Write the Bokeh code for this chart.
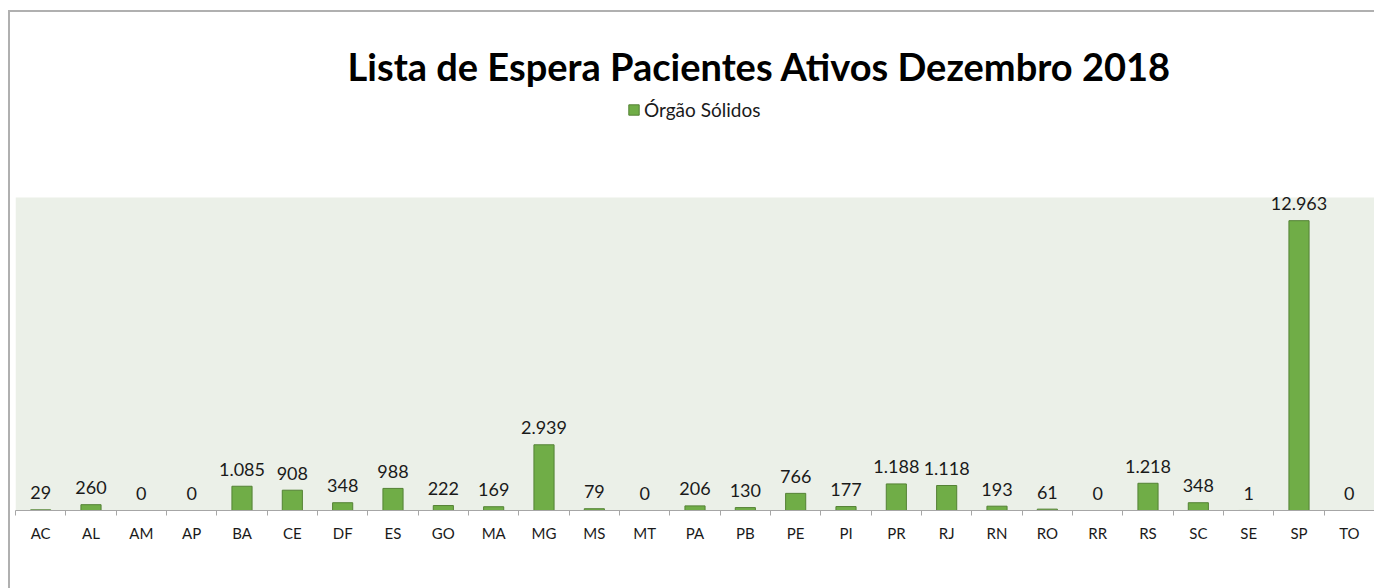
from bokeh.plotting import figure
from bokeh.models import Range1d, FixedTicker, Label, Legend, LegendItem, ColumnDataSource, BoxAnnotation
from bokeh.core.properties import value
from bokeh.embed import file_html
from bokeh.resources import INLINE

states = ["AC", "AL", "AM", "AP", "BA", "CE", "DF", "ES", "GO", "MA", "MG", "MS", "MT",
          "PA", "PB", "PE", "PI", "PR", "RJ", "RN", "RO", "RR", "RS", "SC", "SE", "SP", "TO"]
values = [29, 260, 0, 0, 1085, 908, 348, 988, 222, 169, 2939, 79, 0,
          206, 130, 766, 177, 1188, 1118, 193, 61, 0, 1218, 348, 1, 12963, 0]
title_text = "Lista de Espera Pacientes Ativos Dezembro 2018"
series_name = "Órgão Sólidos"
y_max = 14000

n = len(states)
xs = [i + 0.5 for i in range(n)]
labels = [f"{v:,}".replace(",", ".") for v in values]
src = ColumnDataSource(dict(x=xs, top=values, lab=labels))

# layout (pixels)
FRAME_TOP, AXIS_Y, AREA_TOP = 12, 510, 197
y_end = y_max * (AXIS_Y - FRAME_TOP) / (AXIS_Y - AREA_TOP)

FONT = "Lato"
p = figure(width=1366, height=578, output_backend="svg", toolbar_location=None,
           x_range=Range1d(0, n), y_range=Range1d(0, y_end), y_axis_location=None,
           min_border_left=5, min_border_right=2, min_border_top=0, min_border_bottom=80)
p.styles = {"margin-left": "8px", "margin-top": "10px",
            "border-left": "2px solid #b0b0b0", "border-top": "2px solid #b0b0b0",
            "box-sizing": "border-box"}
p.background_fill_color = "white"
p.border_fill_color = "white"
p.outline_line_color = None
p.grid.visible = False

p.add_layout(BoxAnnotation(bottom=0, top=y_max, fill_color="#ebf0e8", fill_alpha=1,
                           line_color=None, level="underlay"))

r = p.vbar(x="x", top="top", width=0.4, source=src, fill_color="#70ad47",
           line_color="#548235", line_width=1)
p.text(x="x", y="top", text="lab", source=src, text_align="center",
       text_baseline="alphabetic", y_offset=-17, text_font=value(FONT),
       text_font_size="18px", text_color="#1a1a1a")

ax = p.xaxis[0]
ax.ticker = FixedTicker(ticks=xs, minor_ticks=list(range(n + 1)))
ax.major_label_overrides = {x: s for x, s in zip(xs, states)}
ax.major_tick_out = 0
ax.major_tick_in = 0
ax.minor_tick_out = 5
ax.minor_tick_in = 0
ax.minor_tick_line_color = "#a6a6a6"
ax.axis_line_color = "#a6a6a6"
ax.major_label_text_font = FONT
ax.major_label_text_font_size = "15px"
ax.major_label_text_color = "#1a1a1a"
ax.major_label_standoff = 8

p.add_layout(Label(x=14.78, y=y_max * (AXIS_Y - 65) / (AXIS_Y - AREA_TOP), text=title_text,
                   text_align="center", text_baseline="alphabetic", text_font=FONT,
                   text_font_size="38px", text_font_style="bold", text_color="black"))

leg = Legend(items=[LegendItem(label=series_name, renderers=[r])], location=(612, 389),
             glyph_width=13, glyph_height=13, label_text_font=FONT,
             label_text_font_size="19px", label_text_color="#1a1a1a",
             border_line_color=None, background_fill_alpha=0, padding=0, margin=0,
             label_standoff=4, label_height=13)
p.add_layout(leg, "center")

open("out.html", "w").write(file_html(p, INLINE))
